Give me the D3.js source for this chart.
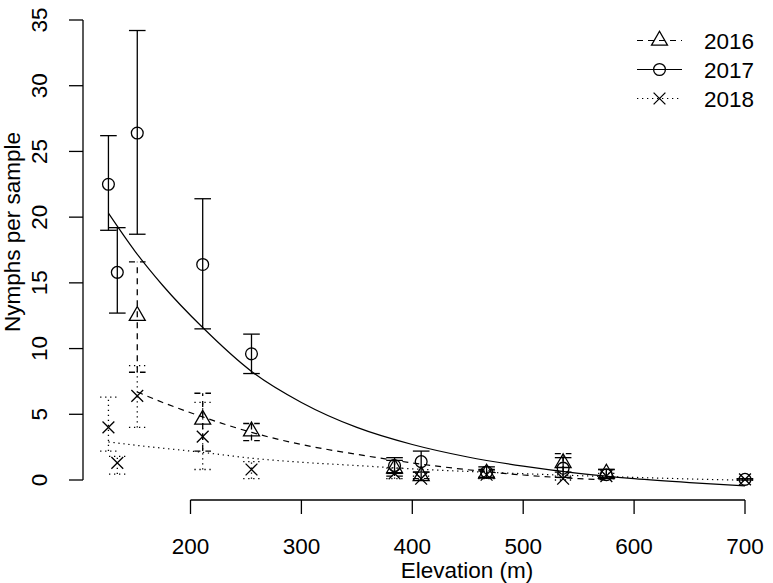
<!DOCTYPE html>
<html>
<head>
<meta charset="utf-8">
<script src="https://cdn.jsdelivr.net/npm/d3@7"></script>
<style>
  body { margin: 0; background: #fff; }
  svg text { font-family: "Liberation Sans", Arial, Helvetica, sans-serif; fill: #000; }
</style>
</head>
<body>
<div id="chart"></div>
<script>
// sampling sites (elevation, m)
const sites = [126, 134, 152, 211, 255, 384, 408, 467, 536, 575, 700];

// mean nymphs per sample and error bar limits, null = not sampled
const mean2016 = [null, null, 12.5, 4.6, 3.7, 0.9, 0.3, 0.5, 1.3, 0.5, null];
const low2016  = [null, null, 8.2, 2.2, 3.0, 0.3, 0.1, 0.2, 0.6, 0.2, null];
const high2016 = [null, null, 16.6, 6.6, 4.3, 1.5, 0.6, 0.8, 2.0, 0.8, null];

const mean2017 = [22.5, 15.8, 26.4, 16.4, 9.6, 1.1, 1.4, 0.6, 0.9, 0.4, 0.05];
const low2017  = [19.0, 12.7, 18.7, 11.5, 8.1, 0.5, 0.6, 0.2, 0.2, 0.1, 0.0];
const high2017 = [26.2, 19.2, 34.2, 21.4, 11.1, 1.7, 2.2, 1.0, 1.7, 0.8, 0.1];

const mean2018 = [4.0, 1.3, 6.4, 3.3, 0.8, 0.5, 0.1, 0.4, 0.1, 0.3, 0.05];
const low2018  = [2.2, 0.45, 4.0, 0.8, 0.1, 0.1, 0.0, 0.1, 0.0, 0.1, 0.0];
const high2018 = [6.3, 1.8, 8.7, 5.9, 1.4, 0.9, 0.3, 0.7, 0.3, 0.5, 0.1];

// fitted decay curves
const fit2016Elev = [152, 175, 211, 256, 300, 350, 400, 450, 500, 550, 575];
const fit2016Val  = [6.7, 5.9, 4.8, 3.6, 2.7, 1.95, 1.3, 0.78, 0.38, 0.1, 0.0];
const fit2017Elev = [126, 150, 175, 211, 256, 300, 350, 400, 450, 500, 550, 600, 650, 700];
const fit2017Val  = [20.3, 17.4, 14.8, 11.6, 8.2, 5.9, 4.0, 2.7, 1.75, 1.05, 0.5, 0.1, -0.2, -0.45];
const fit2018Elev = [126, 150, 211, 256, 300, 350, 400, 450, 500, 550, 600, 650, 700];
const fit2018Val  = [2.9, 2.65, 2.1, 1.65, 1.35, 1.1, 0.85, 0.65, 0.48, 0.33, 0.2, 0.08, -0.02];

const years = ['2016', '2017', '2018'];
const xTicks = [200, 300, 400, 500, 600, 700];
const yTicks = [0, 5, 10, 15, 20, 25, 30, 35];

const width = 773, height = 583;
const svg = d3.select('#chart').append('svg')
  .attr('width', width)
  .attr('height', height);

const x = d3.scaleLinear().domain([200, 700]).range([190.5, 745]);
const y = d3.scaleLinear().domain([0, 35]).range([480, 20]);

const fontSize = 22.5;
const axisY = 500, axisX = 83;

// x axis
const xg = svg.append('g').attr('class', 'x-axis');
xg.append('line')
  .attr('x1', x(xTicks[0])).attr('x2', x(xTicks[xTicks.length - 1]))
  .attr('y1', axisY).attr('y2', axisY)
  .attr('stroke', '#000').attr('stroke-width', 1.3);
xg.selectAll('line.tick').data(xTicks).enter().append('line')
  .attr('class', 'tick')
  .attr('x1', d => x(d)).attr('x2', d => x(d))
  .attr('y1', axisY).attr('y2', axisY + 14)
  .attr('stroke', '#000').attr('stroke-width', 1.3);
xg.selectAll('text').data(xTicks).enter().append('text')
  .attr('x', d => x(d)).attr('y', 554)
  .attr('text-anchor', 'middle')
  .attr('font-size', fontSize)
  .text(d => d);
svg.append('text')
  .attr('x', 467).attr('y', 578)
  .attr('text-anchor', 'middle')
  .attr('font-size', fontSize)
  .text('Elevation (m)');

// y axis
const yg = svg.append('g').attr('class', 'y-axis');
yg.append('line')
  .attr('x1', axisX).attr('x2', axisX)
  .attr('y1', y(0)).attr('y2', y(35))
  .attr('stroke', '#000').attr('stroke-width', 1.3);
yg.selectAll('line.tick').data(yTicks).enter().append('line')
  .attr('class', 'tick')
  .attr('x1', axisX - 14).attr('x2', axisX)
  .attr('y1', d => y(d)).attr('y2', d => y(d))
  .attr('stroke', '#000').attr('stroke-width', 1.3);
yg.selectAll('text').data(yTicks).enter().append('text')
  .attr('transform', d => `translate(47,${y(d)}) rotate(-90)`)
  .attr('text-anchor', 'middle')
  .attr('font-size', fontSize)
  .text(d => d);
svg.append('text')
  .attr('transform', 'translate(20,232) rotate(-90)')
  .attr('text-anchor', 'middle')
  .attr('font-size', fontSize)
  .text('Nymphs per sample');

// series styles
const dashFor = { '2016': '6,5', '2017': null, '2018': '1.3,3.7' };
const series = [
  { year: '2016', mean: mean2016, low: low2016, high: high2016, fitE: fit2016Elev, fitV: fit2016Val, pch: 'triangle' },
  { year: '2017', mean: mean2017, low: low2017, high: high2017, fitE: fit2017Elev, fitV: fit2017Val, pch: 'circle' },
  { year: '2018', mean: mean2018, low: low2018, high: high2018, fitE: fit2018Elev, fitV: fit2018Val, pch: 'cross' }
];

function drawMarker(g, type, cx, cy) {
  if (type === 'circle') {
    g.append('circle').attr('cx', cx).attr('cy', cy).attr('r', 5.9)
      .attr('fill', 'none').attr('stroke', '#000').attr('stroke-width', 1.3);
  } else if (type === 'triangle') {
    const r = 9.2, xc = r * Math.sqrt(3) / 2, yc = r / 2;
    g.append('path')
      .attr('d', `M${cx},${cy - r}L${cx + xc},${cy + yc}L${cx - xc},${cy + yc}Z`)
      .attr('fill', 'none').attr('stroke', '#000').attr('stroke-width', 1.3);
  } else {
    const h = 5.9;
    g.append('path')
      .attr('d', `M${cx - h},${cy - h}L${cx + h},${cy + h}M${cx - h},${cy + h}L${cx + h},${cy - h}`)
      .attr('fill', 'none').attr('stroke', '#000').attr('stroke-width', 1.3);
  }
}

const line = d3.line().curve(d3.curveMonotoneX);

series.forEach(s => {
  const g = svg.append('g').attr('class', 'series-' + s.year);
  const dash = dashFor[s.year];

  // fitted curve
  g.append('path')
    .attr('d', line(s.fitE.map((e, i) => [x(e), y(s.fitV[i])])))
    .attr('fill', 'none')
    .attr('stroke', '#000')
    .attr('stroke-width', 1.2)
    .attr('stroke-dasharray', dash);

  // error bars
  sites.forEach((e, i) => {
    if (s.mean[i] == null) return;
    const cx = x(e);
    const bars = g.append('g');
    bars.append('line')
      .attr('x1', cx).attr('x2', cx)
      .attr('y1', y(s.low[i])).attr('y2', y(s.high[i]));
    [s.low[i], s.high[i]].forEach(v => {
      bars.append('line')
        .attr('x1', cx - 8.3).attr('x2', cx + 8.3)
        .attr('y1', y(v)).attr('y2', y(v));
    });
    bars.selectAll('line')
      .attr('stroke', '#000')
      .attr('stroke-width', 1.3)
      .attr('stroke-dasharray', dash);
    drawMarker(g, s.pch, cx, y(s.mean[i]));
  });
});

// legend
const legend = svg.append('g').attr('class', 'legend');
const legendY = [40.5, 69.5, 98.5];
series.forEach((s, i) => {
  const ly = legendY[i];
  legend.append('line')
    .attr('x1', 637).attr('x2', 682)
    .attr('y1', ly).attr('y2', ly)
    .attr('stroke', '#000').attr('stroke-width', 1.2)
    .attr('stroke-dasharray', dashFor[s.year]);
  drawMarker(legend, s.pch, 659.5, ly);
  legend.append('text')
    .attr('x', 704).attr('y', ly + 8)
    .attr('font-size', fontSize)
    .text(years[i]);
});
</script>
</body>
</html>
